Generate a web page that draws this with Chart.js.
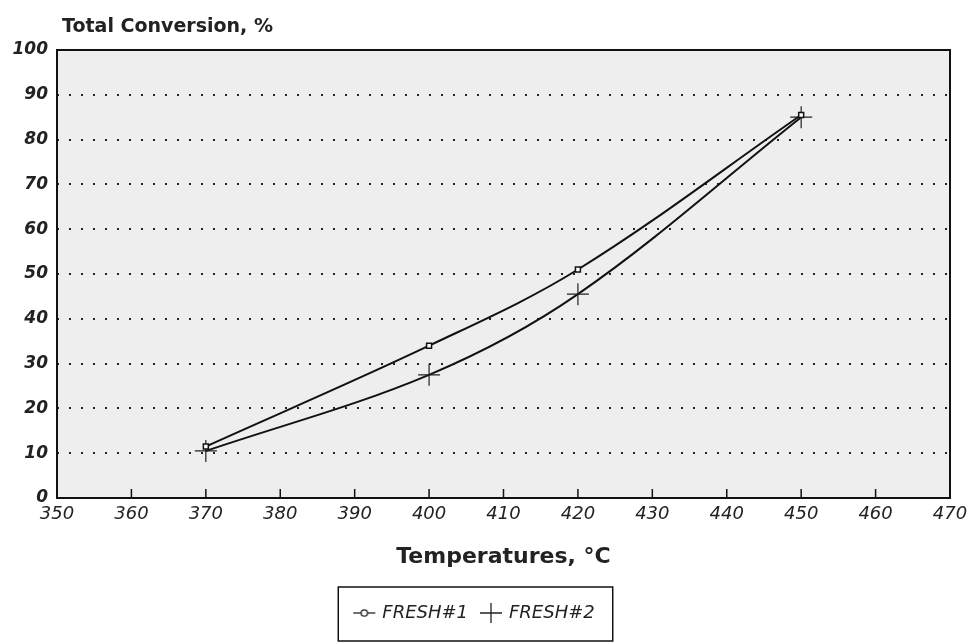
<!DOCTYPE html>
<html>
<head>
<meta charset="utf-8">
<script src="https://cdn.jsdelivr.net/npm/chart.js@4/dist/chart.umd.min.js"></script>
<style>
  html, body { margin: 0; padding: 0; background: #fff; }
  #wrap { width: 971px; height: 644px; }
</style>
</head>
<body>
<div id="wrap"><canvas id="convChart" width="971" height="644"></canvas></div>
<script>
const temps = [370, 400, 420, 450];
const fresh1 = [11.5, 34, 51, 85.5];
const fresh2 = [10.5, 27.5, 45.5, 85];
const xTicks = [350, 360, 370, 380, 390, 400, 410, 420, 430, 440, 450, 460, 470];
const yTicks = [0, 10, 20, 30, 40, 50, 60, 70, 80, 90, 100];

const FONT = '"DejaVu Sans", "Liberation Sans", Arial, sans-serif';

// little legend icons: line with open marker, line with cross
function makeIcon(kind) {
  const c = document.createElement('canvas');
  c.width = 24; c.height = 22;
  const g = c.getContext('2d');
  g.strokeStyle = '#222';
  g.lineWidth = 1.3;
  if (kind === 'circle') {
    g.beginPath(); g.moveTo(1, 11); g.lineTo(23, 11); g.stroke();
    g.fillStyle = '#fff';
    g.beginPath(); g.arc(12, 11, 3.2, 0, Math.PI * 2); g.fill(); g.stroke();
  } else {
    g.beginPath();
    g.moveTo(1, 11); g.lineTo(23, 11);
    g.moveTo(12, 1); g.lineTo(12, 21);
    g.stroke();
  }
  return c;
}
const legendIcons = [makeIcon('circle'), makeIcon('cross')];

// plot frame, gray background, inward x ticks, legend box, top title
const framePlugin = {
  id: 'frame',
  beforeDraw(chart) {
    const { ctx, chartArea: a } = chart;
    ctx.save();
    ctx.fillStyle = '#eeeeee';
    ctx.fillRect(a.left, a.top, a.right - a.left, a.bottom - a.top);
    ctx.restore();
  },
  afterDraw(chart) {
    const { ctx, chartArea: a } = chart;
    const xs = chart.scales.x;
    ctx.save();
    ctx.strokeStyle = '#111';
    ctx.lineWidth = 2;
    ctx.strokeRect(a.left, a.top, a.right - a.left, a.bottom - a.top);

    ctx.lineWidth = 1.5;
    xTicks.slice(1, -1).forEach(v => {
      const px = xs.getPixelForValue(v);
      ctx.beginPath();
      ctx.moveTo(px, a.bottom);
      ctx.lineTo(px, a.bottom - 9);
      ctx.stroke();
    });

    const lg = chart.legend;
    if (lg && lg.legendHitBoxes && lg.legendHitBoxes.length) {
      const hb = lg.legendHitBoxes;
      const l = Math.min(...hb.map(b => b.left)) - 17;
      const r = Math.max(...hb.map(b => b.left + b.width)) + 18;
      ctx.lineWidth = 1.5;
      ctx.strokeRect(l, lg.top - 3, r - l, lg.height + 12);
    }

    ctx.fillStyle = '#222';
    ctx.font = 'bold 19px ' + FONT;
    ctx.textBaseline = 'middle';
    ctx.fillText('Total Conversion, %', a.left + 5, 27);
    ctx.restore();
  }
};

new Chart(document.getElementById('convChart').getContext('2d'), {
  type: 'line',
  data: {
    datasets: [
      {
        label: 'FRESH#1',
        data: temps.map((t, i) => ({ x: t, y: fresh1[i] })),
        borderColor: '#111',
        borderWidth: 2,
        tension: 0.35,
        pointStyle: 'rect',
        pointRadius: 3.5,
        pointBackgroundColor: '#fff',
        pointBorderColor: '#111',
        pointBorderWidth: 1.5
      },
      {
        label: 'FRESH#2',
        data: temps.map((t, i) => ({ x: t, y: fresh2[i] })),
        borderColor: '#111',
        borderWidth: 2,
        tension: 0.35,
        pointStyle: 'cross',
        pointRadius: 11,
        pointBorderColor: '#222',
        pointBorderWidth: 1.2
      }
    ]
  },
  options: {
    responsive: false,
    animation: false,
    layout: { padding: { left: 0, right: 21, top: 50, bottom: 12 } },
    scales: {
      x: {
        type: 'linear',
        min: 350,
        max: 470,
        afterBuildTicks: s => { s.ticks = xTicks.map(v => ({ value: v })); },
        grid: { display: false },
        border: { display: false },
        ticks: {
          color: '#222',
          font: { family: FONT, size: 18, style: 'italic' },
          padding: -2,
          maxRotation: 0
        },
        title: {
          display: true,
          text: 'Temperatures, °C',
          color: '#222',
          font: { family: FONT, size: 22, weight: 'bold' },
          padding: { top: 20, bottom: 20 }
        }
      },
      y: {
        min: 0,
        max: 100,
        afterBuildTicks: s => { s.ticks = yTicks.map(v => ({ value: v })); },
        afterFit: s => { s.width = 57; },
        grid: { color: '#222', lineWidth: 2, drawTicks: false },
        border: { display: false, dash: [2, 10] },
        ticks: {
          color: '#222',
          font: { family: FONT, size: 17, style: 'italic', weight: 'bold' },
          padding: 9
        }
      }
    },
    plugins: {
      legend: {
        position: 'bottom',
        labels: {
          usePointStyle: true,
          color: '#222',
          font: { family: FONT, size: 18, style: 'italic' },
          padding: 14,
          boxWidth: 22,
          generateLabels: chart => Chart.defaults.plugins.legend.labels.generateLabels(chart)
            .map((item, i) => Object.assign(item, { pointStyle: legendIcons[i] }))
        }
      },
      tooltip: { enabled: false }
    }
  },
  plugins: [framePlugin]
});
</script>
</body>
</html>
